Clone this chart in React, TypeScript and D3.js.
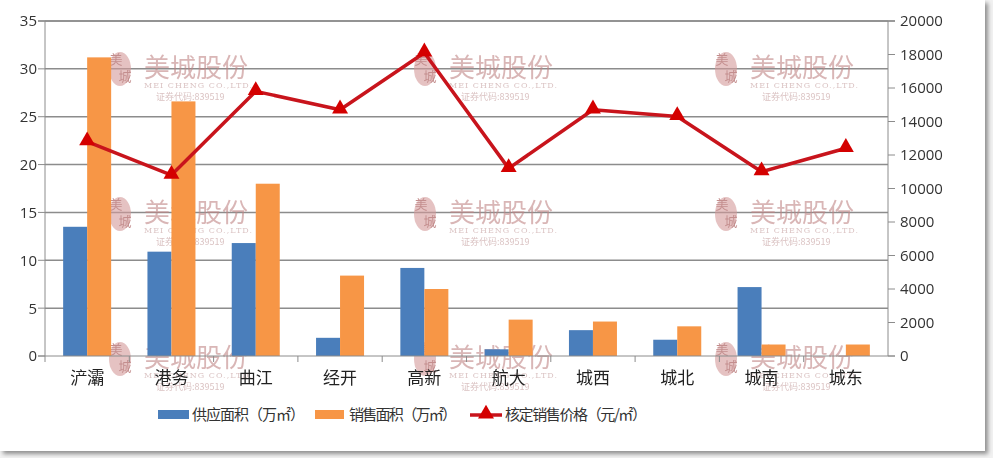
//@ts-nocheck
import { useEffect, useRef } from 'react';
import * as d3 from 'd3';

const categories = ['浐灞', '港务', '曲江', '经开', '高新', '航大', '城西', '城北', '城南', '城东'];
const supplyArea = [13.5, 10.9, 11.8, 1.9, 9.2, 0.7, 2.7, 1.7, 7.2, 0];
const salesArea = [31.2, 26.6, 18.0, 8.4, 7.0, 3.8, 3.6, 3.1, 1.2, 1.2];
const price = [12800, 10800, 15800, 14700, 18100, 11200, 14700, 14300, 11000, 12400];
const leftTicks = [0, 5, 10, 15, 20, 25, 30, 35];
const rightTicks = [0, 2000, 4000, 6000, 8000, 10000, 12000, 14000, 16000, 18000, 20000];
const legendLabels = ['供应面积（万㎡）', '销售面积（万㎡）', '核定销售价格（元/㎡）'];

const W = 993;
const H = 458;

const App = () => {
    const svgRef = useRef();

    useEffect(() => {
        const svg = d3.select(svgRef.current);
        svg.selectAll('*').remove();

        const left = 45, right = 888, top = 21, bottom = 356;
        const cjk = '"Noto Sans CJK SC", sans-serif';
        const num = '"Open Sans", sans-serif';

        // frame with a soft shadow on right and bottom
        const defs = svg.append('defs');
        const fg = defs.append('filter').attr('id', 'shadow').attr('x', '-5%').attr('y', '-5%').attr('width', '110%').attr('height', '115%');
        fg.append('feDropShadow').attr('dx', 3).attr('dy', 3).attr('stdDeviation', 2).attr('flood-color', '#777').attr('flood-opacity', 0.8);
        svg.append('rect').attr('width', W).attr('height', H).attr('fill', '#f2f2f2');
        svg.append('rect').attr('x', 0).attr('y', 0).attr('width', 985).attr('height', 451)
            .attr('fill', '#fff').attr('filter', 'url(#shadow)');

        const x = d3.scaleBand().domain(categories).range([left, right]).padding(0);
        const yL = d3.scaleLinear().domain([0, 35]).range([bottom, top]);
        const yR = d3.scaleLinear().domain([0, 20000]).range([bottom, top]);
        const barW = 24;

        // gridlines
        svg.append('g').selectAll('line').data(leftTicks.filter(t => t > 0)).join('line')
            .attr('x1', left).attr('x2', right)
            .attr('y1', d => yL(d)).attr('y2', d => yL(d))
            .attr('stroke', '#8c8c8c').attr('stroke-width', 1.5);

        // watermarks
        const wmCols = [108, 413, 714];
        const wmRows = [67, 212, 357];
        const wm = svg.append('g').attr('opacity', 0.6);
        wmCols.forEach(cx => wmRows.forEach(cy => {
            const g = wm.append('g').attr('transform', `translate(${cx},${cy})`);
            g.append('ellipse').attr('cx', 12).attr('cy', 2).attr('rx', 11).attr('ry', 17).attr('fill', '#d49a9a');
            g.append('text').attr('x', 8).attr('y', -3).attr('font-size', 13).attr('fill', '#9c4343')
                .attr('text-anchor', 'middle').style('font-family', cjk).text('美');
            g.append('text').attr('x', 17).attr('y', 14).attr('font-size', 13).attr('fill', '#9c4343')
                .attr('text-anchor', 'middle').style('font-family', cjk).text('城');
            g.append('text').attr('x', 36).attr('y', 10).attr('font-size', 26).attr('fill', '#c08585')
                .style('font-family', cjk).text('美城股份');
            g.append('text').attr('x', 36).attr('y', 21).attr('font-size', 8).attr('fill', '#c29a9a')
                .attr('textLength', 108).style('font-family', '"DejaVu Serif", serif').text('MEI CHENG CO.,LTD.');
            g.append('text').attr('x', 48).attr('y', 33).attr('font-size', 9).attr('fill', '#c29a9a')
                .style('font-family', cjk).text('证券代码:839519');
        }));

        // bars
        svg.append('g').selectAll('rect').data(supplyArea).join('rect')
            .attr('x', (d, i) => x(categories[i]) + x.bandwidth() / 2 - barW)
            .attr('y', d => yL(d)).attr('width', barW).attr('height', d => bottom - yL(d))
            .attr('fill', '#4a7ebb');
        svg.append('g').selectAll('rect').data(salesArea).join('rect')
            .attr('x', (d, i) => x(categories[i]) + x.bandwidth() / 2)
            .attr('y', d => yL(d)).attr('width', barW).attr('height', d => bottom - yL(d))
            .attr('fill', '#f79646');

        // axes lines
        const axisColor = '#8c8c8c';
        svg.append('line').attr('x1', left).attr('x2', left).attr('y1', top).attr('y2', bottom + 6).attr('stroke', axisColor);
        svg.append('line').attr('x1', right).attr('x2', right).attr('y1', top).attr('y2', bottom).attr('stroke', axisColor);
        svg.append('line').attr('x1', left - 7).attr('x2', right + 7).attr('y1', bottom).attr('y2', bottom).attr('stroke', axisColor);
        svg.append('line').attr('x1', left - 7).attr('x2', right + 7).attr('y1', top).attr('y2', top).attr('stroke', axisColor).attr('stroke-width', 1.5);

        // left ticks
        const gl = svg.append('g');
        gl.selectAll('line').data(leftTicks).join('line')
            .attr('x1', left - 7).attr('x2', left).attr('y1', d => yL(d)).attr('y2', d => yL(d)).attr('stroke', axisColor);
        gl.selectAll('text').data(leftTicks).join('text')
            .attr('x', 37).attr('y', d => yL(d)).attr('dy', '0.36em').attr('text-anchor', 'end')
            .attr('font-size', 15).attr('fill', '#333').style('font-family', num).text(d => d);

        // right ticks
        const gr = svg.append('g');
        gr.selectAll('line').data(rightTicks).join('line')
            .attr('x1', right).attr('x2', right + 7).attr('y1', d => yR(d)).attr('y2', d => yR(d)).attr('stroke', axisColor);
        gr.selectAll('text').data(rightTicks).join('text')
            .attr('x', 900).attr('y', d => yR(d)).attr('dy', '0.36em').attr('text-anchor', 'start')
            .attr('font-size', 15).attr('fill', '#333').style('font-family', num).text(d => d);

        // category ticks between bands
        svg.append('g').selectAll('line').data(categories.slice(1)).join('line')
            .attr('x1', d => x(d)).attr('x2', d => x(d)).attr('y1', bottom).attr('y2', bottom + 6).attr('stroke', axisColor);
        svg.append('g').selectAll('text').data(categories).join('text')
            .attr('x', d => x(d) + x.bandwidth() / 2).attr('y', 384).attr('text-anchor', 'middle')
            .attr('font-size', 17).attr('fill', '#222').style('font-family', cjk).text(d => d);

        // price line
        const line = d3.line().x((d, i) => x(categories[i]) + x.bandwidth() / 2).y(d => yR(d));
        svg.append('path').datum(price).attr('d', line).attr('fill', 'none')
            .attr('stroke', '#c8141c').attr('stroke-width', 3.5).attr('stroke-linejoin', 'round');
        const tri = d3.symbol().type(d3.symbolTriangle).size(110);
        svg.append('g').selectAll('path').data(price).join('path')
            .attr('transform', (d, i) => `translate(${x(categories[i]) + x.bandwidth() / 2},${yR(d) - 1})`)
            .attr('d', tri).attr('fill', '#d40000');

        // legend
        const lg = svg.append('g').attr('transform', 'translate(0,415)');
        lg.append('rect').attr('x', 158).attr('y', -5).attr('width', 31).attr('height', 9).attr('fill', '#4a7ebb');
        lg.append('text').attr('x', 192).attr('y', 0).attr('dy', '0.36em').attr('font-size', 15).attr('fill', '#333')
            .attr('textLength', 113).style('font-family', cjk).text(legendLabels[0]);
        lg.append('rect').attr('x', 315).attr('y', -5).attr('width', 29).attr('height', 9).attr('fill', '#f79646');
        lg.append('text').attr('x', 349).attr('y', 0).attr('dy', '0.36em').attr('font-size', 15).attr('fill', '#333')
            .attr('textLength', 108).style('font-family', cjk).text(legendLabels[1]);
        lg.append('line').attr('x1', 470).attr('x2', 502).attr('y1', 0).attr('y2', 0).attr('stroke', '#c8141c').attr('stroke-width', 3.5);
        lg.append('path').attr('transform', 'translate(486,-1)').attr('d', tri).attr('fill', '#d40000');
        lg.append('text').attr('x', 505).attr('y', 0).attr('dy', '0.36em').attr('font-size', 15).attr('fill', '#333')
            .attr('textLength', 142).style('font-family', cjk).text(legendLabels[2]);
    }, []);

    return (
        <svg ref={svgRef} width={W} height={H} style={{ position: 'absolute', left: 0, top: 0 }}></svg>
    );
};

export default App;
